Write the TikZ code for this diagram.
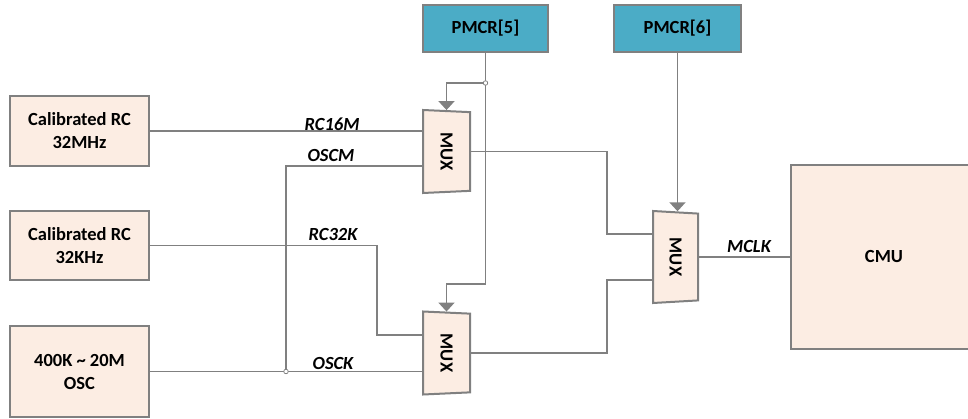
\documentclass[tikz,border=0pt]{standalone}
\usepackage{fontspec}
\setmainfont{Carlito}
\usetikzlibrary{arrows.meta,positioning,calc,shapes.geometric}
\definecolor{peach}{HTML}{FCEDE3}
\definecolor{teal}{HTML}{4BACC6}
\definecolor{wire}{HTML}{808080}

\begin{document}
\begin{tikzpicture}[x=1pt,y=-1pt,
    srcbox/.style={draw=wire,line width=2,fill=peach,align=center,minimum width=139,
      font=\fontsize{18.5}{23}\selectfont\bfseries},
    regbox/.style={draw=wire,line width=2,fill=teal,minimum height=47,
      font=\fontsize{18.5}{23}\selectfont\bfseries},
    muxbox/.style={draw=wire,line width=2,fill=peach,trapezium,rotate=-90,
      trapezium stretches body,inner sep=0,font=\fontsize{18.5}{23}\selectfont\bfseries},
    wireline/.style={wire,line width=1.8},
    selarrow/.style={wire,line width=1.8,-{Triangle[width=16,length=9]}},
    siglabel/.style={font=\fontsize{18.5}{23}\selectfont\bfseries\itshape},
    junction/.style={circle,draw=wire,fill=white,line width=0.8,inner sep=0,minimum size=4.5}]
  \useasboundingbox (0,0) rectangle (968,419);

  % Clock sources
  \node[srcbox,minimum height=70] (rc32m) at (79.5,131) {Calibrated RC\\32MHz};
  \node[srcbox,minimum height=69] (rc32k) at (79.5,245.5) {Calibrated RC\\32KHz};
  \node[srcbox,minimum height=91] (osc) at (79.5,371.5) {400K \char`~\ 20M\\OSC};

  % Select registers
  \node[regbox,minimum width=125] (pmcr5) at (485.5,28.5) {PMCR[5]};
  \node[regbox,minimum width=127] (pmcr6) at (677.5,28.5) {PMCR[6]};

  % Multiplexers
  \node[muxbox,minimum width=83,minimum height=47,trapezium angle=80] (mux1) at (446.5,151.5) {MUX};
  \node[muxbox,minimum width=83,minimum height=47,trapezium angle=80] (mux2) at (446.5,353) {MUX};
  \node[muxbox,minimum width=92,minimum height=45,trapezium angle=78] (mux3) at (675.5,257) {MUX};

  % Clock management unit
  \node[draw=wire,line width=2,fill=peach,minimum width=186,minimum height=184,
    font=\fontsize{18.5}{23}\selectfont\bfseries] (cmu) at (884,257) {CMU};

  % Helper points
  \coordinate (dot5) at (pmcr5.south |- 0,83);
  \coordinate (dotk) at (osc.east -| 286,0);
  \coordinate (oscmin) at ($(mux1.south)+(0,14.5)$);
  \coordinate (rc32kin) at ($(mux2.south)+(0,-18)$);
  \coordinate (m3in1) at ($(mux3.south)+(0,-23)$);
  \coordinate (m3in2) at ($(mux3.south)+(0,23)$);

  % Inputs of the first stage
  \draw[wireline] (rc32m.east) -- (rc32m.east -| mux1.south);
  \draw[wireline] (dotk) |- (oscmin);
  \draw[wireline] (rc32k.east) -| ([xshift=-45]rc32kin) -- (rc32kin);
  \draw[wireline] (osc.east) -- (osc.east -| mux2.south);

  % Second stage
  \draw[wireline] (mux1.north) -| ([xshift=-45]m3in1) -- (m3in1);
  \draw[wireline] (mux2.north) -| ([xshift=-45]m3in2) -- (m3in2);
  \draw[wireline] (mux3.north) -- (cmu.west);

  % Select lines
  \draw[wireline] (pmcr5.south) -- (dot5);
  \draw[selarrow] (dot5) -| (mux1.west);
  \draw[selarrow] (dot5) -- (pmcr5.south |- 0,284) -| (mux2.west);
  \draw[selarrow] (pmcr6.south) -- (pmcr6.south |- mux3.west);

  \node[junction] (j5) at (dot5) {};
  \node[junction] (jk) at (dotk) {};

  % Signal names
  \node[siglabel] (lrc16m) at (332,124) {RC16M};
  \node[siglabel] (loscm) at (331,155) {OSCM};
  \node[siglabel] (lrc32k) at (333,234) {RC32K};
  \node[siglabel] (losck) at (333,363) {OSCK};
  \node[siglabel] (lmclk) at (749,246) {MCLK};
\end{tikzpicture}
\end{document}
